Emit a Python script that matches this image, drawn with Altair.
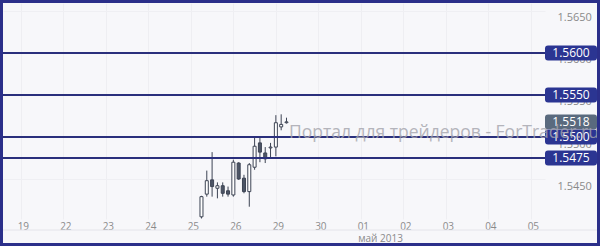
import altair as alt
import pandas as pd

# ---- data ----
days = ["19", "22", "23", "24", "25", "26", "29", "30", "01", "02", "03", "04", "05"]
candle_day = ["25"] * 6 + ["26"] * 8 + ["29"] * 3
candle_hour = [6, 9, 12, 15, 18, 21, 0, 3, 6, 9, 12, 15, 18, 21, 0, 3, 6]
opens = [1.5405, 1.5432, 1.5449, 1.5439, 1.5442, 1.5436, 1.5431, 1.5469, 1.5451,
         1.5435, 1.5464, 1.5493, 1.5481, 1.5487, 1.5488, 1.5512, 1.5517]
highs = [1.5430, 1.5460, 1.5482, 1.5446, 1.5446, 1.5441, 1.5473, 1.5470, 1.5455,
         1.5469, 1.5499, 1.5499, 1.5488, 1.5493, 1.5526, 1.5527, 1.5523]
lows = [1.5403, 1.5429, 1.5429, 1.5427, 1.5429, 1.5429, 1.5429, 1.5449, 1.5433,
        1.5417, 1.5461, 1.5470, 1.5469, 1.5476, 1.5477, 1.5508, 1.5516]
closes = [1.5429, 1.5448, 1.5441, 1.5442, 1.5433, 1.5432, 1.5470, 1.5450, 1.5435,
          1.5467, 1.5489, 1.5482, 1.5474, 1.5488, 1.5517, 1.5515, 1.5518]
levels = [1.5600, 1.5550, 1.5500, 1.5475]
current_price = 1.5518
y_ticks = [1.5450, 1.5500, 1.5550, 1.5600, 1.5650]
watermark = "Портал для трейдеров - ForTrader.ru"
month_label = "май 2013"

# ---- tables ----
pos = [days.index(d) + h / 24 for d, h in zip(candle_day, candle_hour)]
candles = pd.DataFrame({
    "t": pos, "open": opens, "high": highs, "low": lows, "close": closes,
})
candles["up"] = candles["close"] >= candles["open"]
lev = pd.DataFrame({"price": levels, "label": [f"{v:.4f}" for v in levels]})
cur = pd.DataFrame({"price": [current_price], "label": [f"{current_price:.4f}"]})

W, H = 542, 216
xs = alt.Scale(domain=[-0.3025, 12.215], nice=False, zero=False)
ys = alt.Scale(domain=[1.54024, 1.56595], nice=False, zero=False)

label_expr = "[" + ",".join(f"'{d}'" for d in days) + "][datum.value]"

navy = "#2a2f7c"
box_navy = "#2b3592"
dark = "#3d4454"

base = alt.Chart(candles)

wicks = base.mark_rule(color=dark, strokeWidth=1).encode(
    x=alt.X("t:Q", scale=xs, axis=alt.Axis(
        values=list(range(len(days))), labelExpr=label_expr, labelOffset=2,
        labelPadding=2, labelFontSize=10, labelColor="#8a8a8a", labelFont="Open Sans",
        domain=False, ticks=False, grid=True, gridColor="#eeeef2",
        title=month_label, titleX=377, titleY=19, titleAlign="center",
        titleBaseline="middle", titleFontSize=10, titleFontWeight="normal",
        titleColor="#8a8a8a", titleFont="Open Sans")),
    y=alt.Y("low:Q", scale=ys, axis=alt.Axis(
        orient="right", values=y_ticks, format=".4f", labelPadding=12,
        labelOffset=7, labelFontSize=11, labelColor="#8a8a8a", labelFont="Open Sans",
        domain=False, ticks=False, grid=True, gridColor="#efeff3", title=None,
        zindex=0)),
    y2="high:Q",
)

bodies = base.mark_bar(size=3, stroke=dark, strokeWidth=1).encode(
    x="t:Q",
    y="open:Q",
    y2="close:Q",
    fill=alt.Fill("up:N", scale=alt.Scale(domain=[True, False], range=["#ffffff", "#4d5566"]), legend=None),
)

level_lines = alt.Chart(lev).mark_rule(color=navy, strokeWidth=2).encode(
    y="price:Q", x=alt.value(0), x2=alt.value(543)
)

sep = alt.Chart(lev.head(1)).mark_rule(color="#e4e4ea", strokeWidth=1).encode(
    y=alt.value(227), x=alt.value(0), x2=alt.value(597)
)

# rounded box 52 x 15 px, path in a [-1,1] box scaled to sqrt(size)=52
box_path = ("M-0.885,-0.288 L0.885,-0.288 Q1,-0.288 1,-0.173 L1,0.173 Q1,0.288 0.885,0.288 "
            "L-0.885,0.288 Q-1,0.288 -1,0.173 L-1,-0.173 Q-1,-0.288 -0.885,-0.288 Z")

level_boxes = alt.Chart(lev).mark_point(
    shape=box_path, size=52 * 52, filled=True, fill=box_navy, opacity=1, strokeWidth=0
).encode(y="price:Q", x=alt.value(568))

level_text = alt.Chart(lev).mark_text(
    color="white", fontSize=12, font="Open Sans", align="center", baseline="middle"
).encode(y="price:Q", x=alt.value(568), text="label:N")

cur_box = alt.Chart(cur).mark_point(
    shape=box_path, size=52 * 52, filled=True, fill="#5a6a7e", opacity=1, strokeWidth=0
).encode(y="price:Q", x=alt.value(568))

cur_text = alt.Chart(cur).mark_text(
    color="white", fontSize=12, font="Open Sans", align="center", baseline="middle"
).encode(y="price:Q", x=alt.value(568), text="label:N")

wm = alt.Chart(pd.DataFrame({"t": [watermark]})).mark_text(
    color="#a4a4ac", opacity=0.8, fontSize=17.5, font="Open Sans", align="left",
    baseline="middle"
).encode(x=alt.value(286), y=alt.value(130), text="t:N")

border = alt.Chart(lev.head(1)).mark_rect(
    fill="transparent", stroke="#2b2f8a", strokeWidth=3
).encode(x=alt.value(-1.5), x2=alt.value(595.5), y=alt.value(-1.5), y2=alt.value(241.5))

chart = alt.layer(
    wicks, bodies, level_lines, sep, level_boxes, level_text, cur_box, cur_text, wm, border
).properties(
    width=W, height=H,
    autosize=alt.AutoSizeParams(type="none"),
    padding={"left": 3, "top": 3, "right": 55, "bottom": 27},
    background="#f7f7fa",
).configure_view(stroke=None)

chart.save("out.html", embed_options={"renderer": "svg", "actions": False})
